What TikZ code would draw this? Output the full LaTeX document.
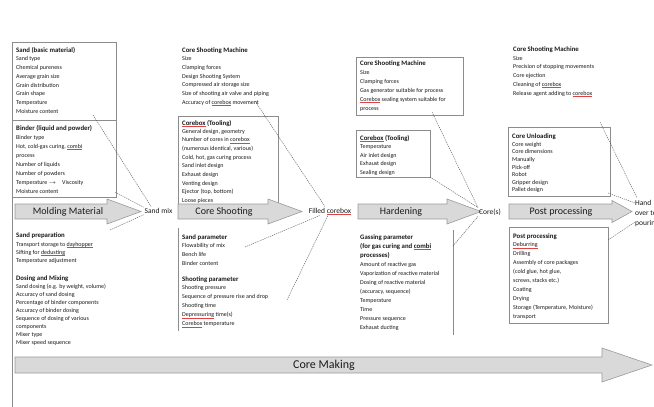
\documentclass[tikz,border=0pt]{standalone}
\usepackage{fontspec}
\setmainfont{Carlito}
\definecolor{boxgray}{HTML}{8C8C8C}
\definecolor{arrfill}{HTML}{D9D9D9}
\definecolor{arrgray}{HTML}{9A9A9A}
\definecolor{conngray}{HTML}{505050}
\definecolor{txt}{HTML}{1A1A1A}
\definecolor{sqred}{HTML}{E04040}
\newcommand\itemsnode[5]{\node[itm=#4] (#1) at (#2,{#3-0.7*#4}) {\strut #5};}
\newcommand\hdr[4]{\node[hdrst] (#1) at (#2,#3) {#4};}
\newcommand\bigarrow[6]{\draw[arr] (#1,#4-#5) -- (#2,#4-#5) -- (#2,#4-#6) -- (#3,#4) -- (#2,#4+#6) -- (#2,#4+#5) -- (#1,#4+#5) -- cycle;}
\newcommand\sq[1]{\setbox0\hbox{#1}\rlap{\color{sqred}\raisebox{-1.2pt}{\rule{\wd0}{0.35pt}}}\box0\relax}
\begin{document}
\begin{tikzpicture}[x=1pt,y=-1pt,
  boxst/.style={draw=boxgray, line width=0.6pt},
  arr/.style={draw=arrgray, fill=arrfill, line width=0.6pt},
  conn/.style={draw=conngray, line width=0.4pt, dash pattern=on 1.2pt off 0.9pt},
  hdrst/.style={font=\fontsize{6.8}{8.7}\selectfont\bfseries, anchor=base west, inner sep=0pt, text=txt, align=left},
  itm/.style={font=\fontsize{6}{#1}\selectfont, anchor=north west, inner sep=0pt, align=left, text=txt},
  arrlbl/.style={font=\fontsize{10}{12}\selectfont, text=txt, inner sep=0pt},
  stage/.style={font=\fontsize{7.5}{10}\selectfont, text=txt, inner sep=1pt, align=left}
]
\useasboundingbox (0,0) rectangle (654,407);
\fill[white] (0,0) rectangle (654,407);

% ---------- boxes ----------
\draw[boxst] (12,42) rectangle (116,120);
\draw[boxst] (12,120) rectangle (116,197);
\draw[boxst] (12,42) -- (12,407);
\draw[boxst] (178,116) rectangle (278,206);
\draw[boxst] (178,228) -- (178,331);
\draw[boxst] (356,57) rectangle (463,115);
\draw[boxst] (356,130) rectangle (430,177);
\draw[boxst] (453,230) -- (453,335);
\draw[boxst] (508,127) rectangle (610,196);
\draw[boxst] (509,227) rectangle (608,323);

% ---------- arrows ----------
\bigarrow{15}{107}{141}{211.5}{7.5}{12.5}
\bigarrow{178}{268}{302}{211.5}{7.5}{12.5}
\bigarrow{358}{447}{481}{211.5}{7.5}{12.5}
\bigarrow{509}{612}{632}{211.5}{7.5}{11}
\bigarrow{15}{602}{652}{365}{8}{17}

\node[arrlbl] (lmm) at (68,212) {Molding Material};
\node[arrlbl] (lcs) at (224,212) {Core Shooting};
\node[arrlbl] (lhd) at (401,212) {Hardening};
\node[arrlbl] (lpp) at (561,212) {Post processing};
\node[arrlbl, font=\fontsize{12}{14}\selectfont] (lcm) at (324,365) {Core Making};

% ---------- stage labels ----------
\node[stage] (sm) at (158.5,211) {Sand mix};
\node[stage] (fc) at (330,211) {Filled \sq{corebox}};
\node[stage] (cs) at (490,212) {Core(s)};
\node[stage, anchor=north west, inner sep=0pt] (ho) at (635,198) {\strut Hand\\over to\\pouring};

% ---------- column 1 ----------
\hdr{h1}{16}{52}{Sand (basic material)}
\itemsnode{i1}{16}{60.5}{8.8}{Sand type\\Chemical pureness\\Average grain size\\Grain distribution\\Grain shape\\Temperature\\Moisture content}
\hdr{h2}{16}{130}{Binder (liquid and powder)}
\itemsnode{i2}{16}{139}{9}{Binder type\\Hot, cold-gas curing, \sq{combi}\\process\\Number of liquids\\Number of powders\\Temperature $\rightarrow$\quad Viscosity\\Moisture content}
\hdr{h3}{16}{237}{Sand preparation}
\itemsnode{i3}{16}{246}{8}{Transport storage to \sq{dayhopper}\\Sifting for \sq{dedusting}\\Temperature adjustment}
\hdr{h4}{16}{280}{Dosing and Mixing}
\itemsnode{i4}{16}{288}{8.1}{Sand dosing (e.g. by weight, volume)\\Accuracy of sand dosing\\Percentage of binder components\\Accuracy of binder dosing\\Sequence of dosing of various\\components\\Mixer type\\Mixer speed sequence}

% ---------- column 2 ----------
\hdr{h5}{182}{52}{Core Shooting Machine}
\itemsnode{i5}{182}{60.5}{8.7}{Size\\Clamping forces\\Design Shooting System\\Compressed air storage size\\Size of shooting air valve and piping\\Accuracy of \sq{corebox} movement}
\hdr{h6}{182}{125}{\sq{Corebox} (Tooling)}
\itemsnode{i6}{182}{133}{8.65}{General design, geometry\\Number of cores in \sq{corebox}\\(numerous identical, various)\\Cold, hot, gas curing process\\Sand inlet design\\Exhaust design\\Venting design\\Ejector (top, bottom)\\Loose pieces}
\hdr{h7}{182}{239}{Sand parameter}
\itemsnode{i7}{182}{247.5}{9}{Flowability of mix\\Bench life\\Binder content}
\hdr{h8}{182}{281}{Shooting parameter}
\itemsnode{i8}{182}{289.5}{9}{Shooting pressure\\Sequence of pressure rise and drop\\Shooting time\\\sq{Depressuring} time(s)\\\sq{Corebox} temperature}

% ---------- column 3 ----------
\hdr{h9}{360}{65}{Core Shooting Machine}
\itemsnode{i9}{360}{74}{9}{Size\\Clamping forces\\Gas generator suitable for process\\\sq{Corebox} sealing system suitable for\\process}
\hdr{h10}{360}{140}{\sq{Corebox} (Tooling)}
\itemsnode{i10}{360}{148.5}{8.5}{Temperature\\Air inlet design\\Exhaust design\\Sealing design}
\hdr{h11}{360}{257}{Gassing parameter\\(for gas curing and \sq{combi}\\processes)}
\itemsnode{i11}{360}{266}{9.1}{Amount of reactive gas\\Vaporization of reactive material\\Dosing of reactive material\\(accuracy, sequence)\\Temperature\\Time\\Pressure sequence\\Exhaust ducting}

% ---------- column 4 ----------
\hdr{h12}{513}{51}{Core Shooting Machine}
\itemsnode{i12}{513}{60}{8.7}{Size\\Precision of stopping movements\\Core ejection\\Cleaning of \sq{corebox}\\Release agent adding to \sq{corebox}}
\hdr{h13}{512}{138}{Core Unloading}
\itemsnode{i13}{512}{146}{7.6}{Core weight\\Core dimensions\\Manually\\Pick-off\\Robot\\Gripper design\\Pallet design}
\hdr{h14}{513}{238}{Post processing}
\itemsnode{i14}{513}{246.5}{9}{\sq{Deburring}\\Drilling\\Assembly of core packages\\(cold glue, hot glue,\\screws, stacks etc.)\\Coating\\Drying\\Storage (Temperature, Moisture)\\transport}

% ---------- connectors ----------
\coordinate (c1) at (93,115);
\coordinate (c2) at (115,192);
\coordinate (c3) at (110,230);
\coordinate (c4) at (255,101);
\coordinate (c5) at (245,247);
\coordinate (c6) at (287,300);
\coordinate (c7) at (432,112);
\coordinate (c8) at (430,177);
\coordinate (c9) at (453,246);
\coordinate (c10) at (600,122);
\coordinate (c11) at (608,193);
\coordinate (c12) at (608,240);
\draw[conn] (c1) -- ([xshift=8pt]sm.north west);
\draw[conn] (c2) -- (sm.north west);
\draw[conn] (c3) -- (sm.south west);
\draw[conn] (c4) -- ([xshift=-5pt]fc.north);
\draw[conn] (c5) -- ([xshift=-10pt]fc.south);
\draw[conn] (c6) -- ([xshift=-2pt]fc.south);
\draw[conn] (c7) -- (cs.north west);
\draw[conn] (c8) -- (cs.north west);
\draw[conn] (c9) -- (cs.south west);
\draw[conn] (c10) -- ([xshift=2pt]ho.north west);
\draw[conn] (c11) -- ([yshift=-5pt]ho.north west);
\draw[conn] (c12) -- ([yshift=-24pt]ho.north west);
\end{tikzpicture}
\end{document}
